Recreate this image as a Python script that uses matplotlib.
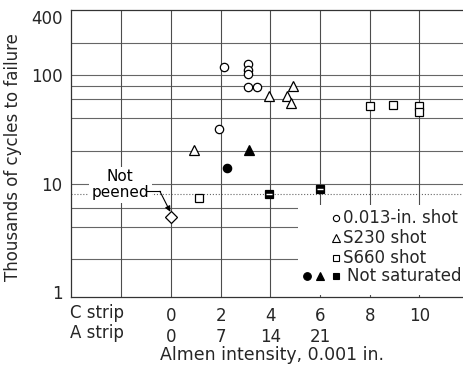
import numpy as np
import matplotlib
matplotlib.use("Agg")
import matplotlib.pyplot as plt
from matplotlib.patches import Rectangle
from matplotlib.ticker import NullLocator, FixedLocator

# data (C-strip Almen intensity, thousands of cycles)
circle_x = [1.94, 2.14, 3.1, 3.1, 3.1, 3.1, 3.47]
circle_y = [32, 120, 126, 113, 102, 78, 78]
tri_x = [0.93, 3.95, 4.68, 4.84, 4.92]
tri_y = [20.5, 64, 64, 56, 80]
sq_x = [1.13, 8.02, 8.95, 10.0, 10.0]
sq_y = [7.3, 51.5, 53.7, 52.5, 46]
ns_circle_x, ns_circle_y = [2.26], [14]
ns_tri_x, ns_tri_y = [3.15], [20.5]
ns_sq_x, ns_sq_y = [3.95, 6.0], [8.0, 9.0]
unpeened_x, unpeened_y = [0], [4.9]

c_ticks = [0, 2, 4, 6, 8, 10]
a_ticks = ["0", "7", "14", "21", "", ""]
y_ticks = [1, 10, 100, 400]
y_grid = [2, 4, 6, 8, 10, 20, 40, 60, 80, 100, 200]
x_grid = [-2, 0, 2, 4, 6, 8, 10]

W, H = 464, 365
fig = plt.figure(figsize=(W / 100, H / 100), dpi=100)
ax = fig.add_axes([71 / W, 1 - 297 / H, 1 - 71 / W, 287 / H])

def px(x, y):
    return x / W, 1 - y / H

ax.set_yscale("log")
ax.set_xlim(-4.03, 11.8)
ax.set_ylim(0.9, 400)

for g in y_grid:
    ls = ":" if g == 8 else "-"
    ax.axhline(g, color="0.4", lw=0.8, ls=ls, zorder=1)
for g in x_grid:
    ax.axvline(g, color="0.3", lw=0.8, zorder=1)

# white area behind the legend
ax.add_patch(Rectangle(px(298, 295), 166 / W, 90 / H, transform=fig.transFigure,
                       facecolor="white", edgecolor="none", zorder=2, clip_on=False))

mk = dict(ls="none", color="black", mec="black", mew=0.9, zorder=4)
ax.plot(circle_x, circle_y, marker="o", ms=6, mfc="white", **mk)
ax.plot(tri_x, tri_y, marker="^", ms=7.5, mfc="white", **mk)
ax.plot(sq_x, sq_y, marker="s", ms=5.5, mfc="white", **mk)
ax.plot(unpeened_x, unpeened_y, marker="D", ms=6, mfc="white", **mk)
ax.plot(ns_circle_x, ns_circle_y, marker="o", ms=6, mfc="black", **mk)
ax.plot(ns_tri_x, ns_tri_y, marker="^", ms=7.5, mfc="black", **mk)
ax.plot(ns_sq_x, ns_sq_y, marker="s", ms=6, mfc="black", **mk)
ax.plot(ns_sq_x, ns_sq_y, marker="_", ms=5, ls="none", mec="white", mew=1, zorder=5)

# "Not peened" note
ax.text(-2.05, 9.8, "Not\npeened", ha="center", va="center", fontsize=11, linespacing=1.05,
        bbox=dict(facecolor="white", edgecolor="none", pad=2), zorder=3)
ax.plot([-0.98, -0.45], [8.5, 8.5], color="black", lw=0.8, zorder=3)
ax.annotate("", xy=(-0.03, 5.5), xytext=(-0.45, 8.5),
            arrowprops=dict(arrowstyle="-|>", color="black", lw=0.8,
                            mutation_scale=8, shrinkA=0, shrinkB=0), zorder=3)

# axes styling
ax.spines["right"].set_visible(False)
for s in ["left", "bottom", "top"]:
    ax.spines[s].set_color("0.2")
    ax.spines[s].set_linewidth(0.9)
ax.yaxis.set_major_locator(FixedLocator(y_ticks))
ax.yaxis.set_minor_locator(NullLocator())
ax.set_yticklabels([str(v) for v in y_ticks])
ax.get_yticklabels()[-1].set_va("top")
ax.set_xticks(c_ticks)
ax.set_xticklabels([f"{c}\n{a}" if a else str(c) for c, a in zip(c_ticks, a_ticks)],
                   linespacing=1.25, va="top")
ax.tick_params(length=0, labelsize=12, colors="0.15")
ax.tick_params(axis="x", pad=7)
ax.tick_params(axis="y", pad=6)

fig.text(*px(70, 313), "C strip", fontsize=12, va="center", ha="left", color="0.15")
fig.text(*px(70, 333), "A strip", fontsize=12, va="center", ha="left", color="0.15")
fig.text(*px(272, 355), "Almen intensity, 0.001 in.", fontsize=12.5, ha="center",
         va="center", color="0.15")
fig.text(*px(13, 157), "Thousands of cycles to failure", fontsize=12, rotation=90,
         ha="center", va="center", color="0.15")

# legend drawn by hand
rows = [(218, "0.013-in. shot"), (238, "S230 shot"), (258, "S660 shot"), (276, "Not saturated")]
lm = dict(transform=fig.transFigure, ls="none", color="black", mew=0.8, clip_on=False, zorder=5)
ax.plot(*px(336, 218), marker="o", ms=4.5, mfc="white", **lm)
ax.plot(*px(336, 238), marker="^", ms=5.5, mfc="white", **lm)
ax.plot(*px(336, 258), marker="s", ms=4.5, mfc="white", **lm)
ax.plot(*px(307, 276), marker="o", ms=5.5, mfc="black", **lm)
ax.plot(*px(320, 276), marker="^", ms=6, mfc="black", **lm)
ax.plot(*px(336, 276), marker="s", ms=5, mfc="black", **lm)
for y, label in rows:
    x0 = 347 if label.startswith("Not") else 343
    fig.text(*px(x0, y), label, fontsize=12, va="center", ha="left", color="0.15")

fig.savefig("out.png", dpi=100)
